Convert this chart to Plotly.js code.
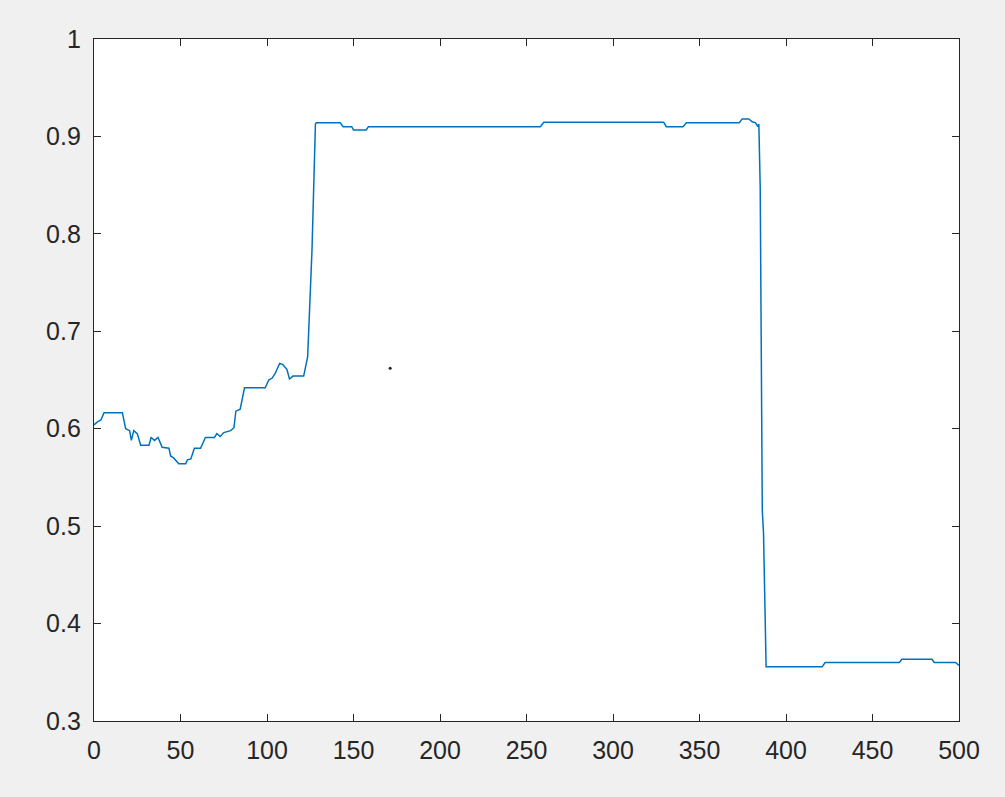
<!DOCTYPE html>
<html>
<head>
<meta charset="utf-8">
<script src="https://cdn.plot.ly/plotly-3.0.1.min.js"></script>
<style>
  html, body { margin: 0; padding: 0; background: #f0f0f0; }
  #chart { width: 1005px; height: 797px; }
</style>
</head>
<body>
<div id="chart"></div>
<script>
// signal
var xVals = [0, 2, 4, 5.8, 16.4, 18.3, 20.6, 21.6, 23, 25, 27, 31.8, 33, 35, 37, 39.4, 43.3, 44.3, 46, 49, 53, 54, 56, 58, 61.6,
    64.4, 69.6, 71, 73, 75, 79, 80.9, 82, 84.5, 87, 99, 101, 103, 104.8, 107.3, 109, 111.5, 113, 115, 121.2, 122.2, 123.5,
    126, 127, 128, 128.5, 142.3, 144, 149, 150, 157.4, 158.6, 258, 260, 329.3, 330.8, 340.5, 342.4, 373, 374.7, 378.5,
    380.5, 382.4, 383.7, 384.3, 385.1, 385.3, 386.3, 387, 388.5, 420.9, 422.6, 465.5, 467, 484.4, 485.7, 498, 500];
var yVals = [0.604, 0.607, 0.609, 0.6165, 0.6165, 0.600, 0.598, 0.588, 0.598, 0.595, 0.583, 0.583, 0.591, 0.588, 0.591, 0.581, 0.580, 0.572, 0.570, 0.564, 0.564, 0.568, 0.569, 0.580, 0.580,
    0.591, 0.591, 0.595, 0.592, 0.596, 0.598, 0.601, 0.618, 0.620, 0.642, 0.642, 0.650, 0.652, 0.657, 0.667, 0.666, 0.661, 0.651, 0.654, 0.654, 0.664, 0.674,
    0.783, 0.864, 0.913, 0.914, 0.914, 0.910, 0.910, 0.9066, 0.9066, 0.910, 0.910, 0.9145, 0.9145, 0.910, 0.910, 0.914, 0.914, 0.918, 0.918,
    0.915, 0.914, 0.910, 0.9127, 0.847, 0.801, 0.516, 0.493, 0.3556, 0.3556, 0.360, 0.360, 0.3634, 0.3634, 0.360, 0.360, 0.357];

// stray point
var dotX = [171.2];
var dotY = [0.662];

var axisColor = '#262626';

var trace1 = {
    x: xVals,
    y: yVals,
    type: 'scatter',
    mode: 'lines',
    line: { color: '#0072BD', width: 1.5 },
    hoverinfo: 'x+y'
};

var trace2 = {
    x: dotX,
    y: dotY,
    type: 'scatter',
    mode: 'markers',
    marker: { color: '#222222', size: 3 }
};

var axisStyle = {
    showline: true,
    linecolor: axisColor,
    linewidth: 1.3,
    mirror: 'ticks',
    ticks: 'inside',
    ticklen: 7,
    tickwidth: 1.3,
    tickcolor: axisColor,
    ticklabelstandoff: 7,
    showgrid: false,
    zeroline: false,
    tickfont: { family: 'Liberation Sans, Arial, sans-serif', size: 25, color: axisColor }
};

var layout = {
    width: 1005,
    height: 797,
    paper_bgcolor: '#f0f0f0',
    plot_bgcolor: '#ffffff',
    showlegend: false,
    margin: { l: 93.5, r: 45.7, t: 39.3, b: 76 },
    xaxis: Object.assign({}, axisStyle, {
        range: [0, 500],
        tickvals: [0, 50, 100, 150, 200, 250, 300, 350, 400, 450, 500]
    }),
    yaxis: Object.assign({}, axisStyle, {
        range: [0.3, 1],
        tickvals: [0.3, 0.4, 0.5, 0.6, 0.7, 0.8, 0.9, 1],
        ticktext: ['0.3', '0.4', '0.5', '0.6', '0.7', '0.8', '0.9', '1']
    })
};

Plotly.newPlot('chart', [trace1, trace2], layout, { displayModeBar: false });
</script>
</body>
</html>
